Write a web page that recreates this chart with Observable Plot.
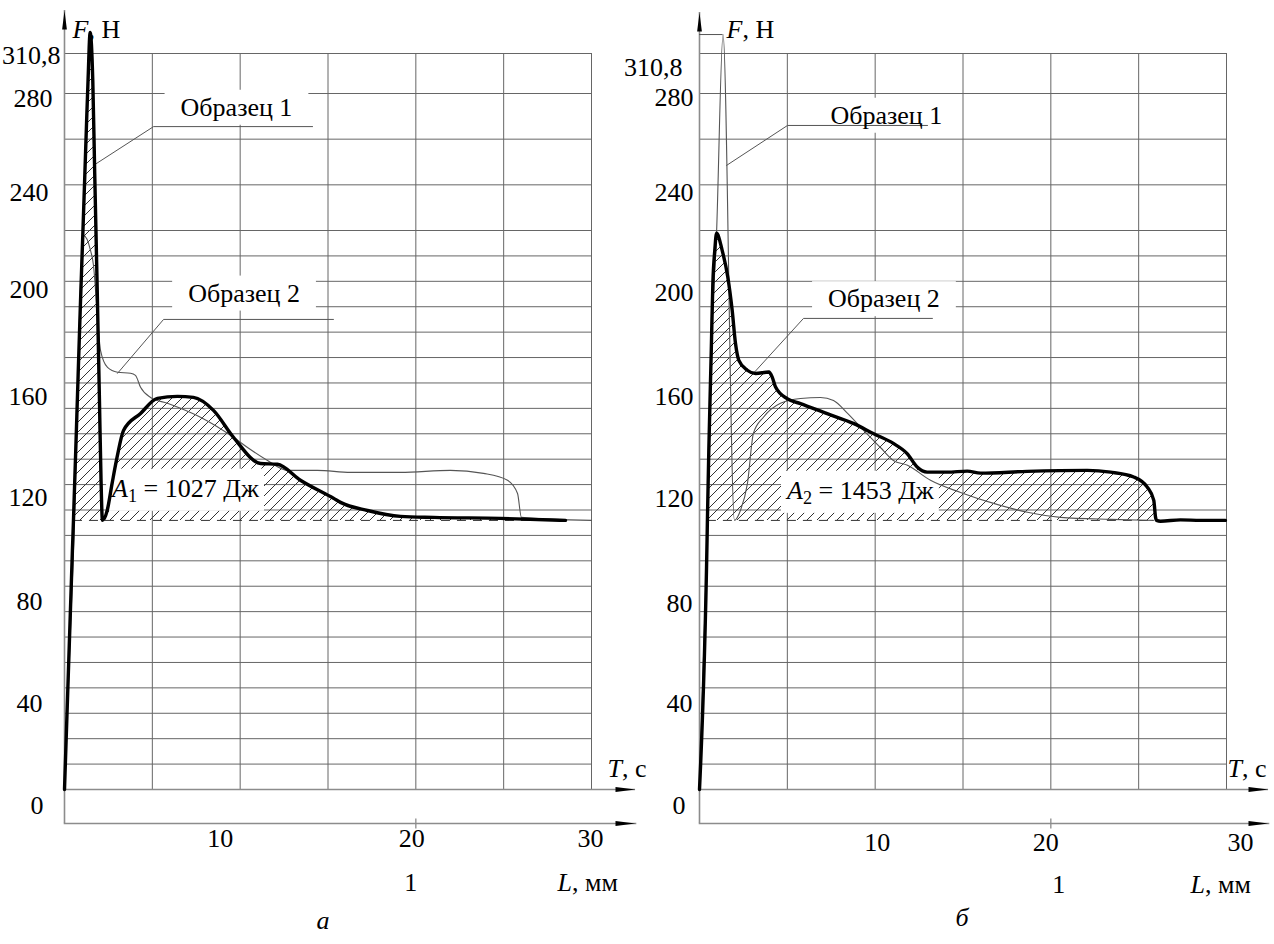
<!DOCTYPE html>
<html lang="ru">
<head>
<meta charset="utf-8">
<title>Диаграммы F–L</title>
<script src="https://cdn.jsdelivr.net/npm/d3@7"></script>
<script src="https://cdn.jsdelivr.net/npm/@observablehq/plot@0.6"></script>
<style>
  html, body { margin: 0; padding: 0; background: #fff; }
  #figure { display: flex; width: 1274px; height: 944px; }
  #figure > svg { flex: none; overflow: visible; background: none; max-width: none; }
  #figure svg text { font-family: "Liberation Serif", "Times New Roman", Tinos, "DejaVu Serif", serif !important; }
</style>
</head>
<body>
<div id="figure"></div>
<script>
// ---------------- shared grid / tick data ----------------
const gridF = [10, 20, 30, 40, 50, 60, 70, 80, 90, 100, 110, 120, 130, 140, 150, 160, 170, 180, 190, 200, 210, 220, 240, 260, 280, 310.8];
const gridL = [5, 10, 15, 20, 25, 30];
const yTickValues = [310.8, 280, 240, 200, 160, 120, 80, 40, 0];
const yTickLabels = ["310,8", "280", "240", "200", "160", "120", "80", "40", "0"];
const xTickValues = [10, 20, 30];
const xTickLabels = ["10", "20", "30"];
const sampleNames = ["Образец 1", "Образец 2"];
const baseF = 105.9;

// ---------------- panel а ----------------
// Образец 1 (thick)
const a_s1_L = [0, 0.45, 0.51, 0.70, 0.90, 1.05, 1.16, 1.26, 1.34, 1.46, 1.61, 1.72, 1.86, 1.99, 2.08, 2.16, 2.43, 2.71, 2.99, 3.36, 4.33, 5.29, 6.43, 7.34, 8.48, 9.62, 11.16, 12.12, 13.43, 15.31, 15.71, 17.25, 19.13, 21.0, 24.82, 28.52];
const a_s1_F = [0, 94.1, 105.9, 146.5, 189.8, 220, 245, 268.2, 290, 327, 290, 245, 197.6, 153.1, 121.7, 105.9, 109.8, 120.5, 130.7, 141.3, 148.0, 153.9, 154.7, 154.3, 149.2, 138.6, 128.3, 128.0, 121.7, 114.6, 113.0, 109.8, 107.5, 107.1, 106.7, 105.9];
// Образец 2 (thin)
const a_s2_L = [0, 0.51, 1.08, 1.48, 1.65, 1.88, 2.05, 2.45, 3.02, 3.76, 4.04, 4.33, 4.90, 5.86, 7.74, 9.62, 10.42, 11.56, 12.69, 14.40, 16.28, 19.13, 21.97, 23.85, 25.22, 25.79, 26.01, 30.0];
const a_s2_F = [0, 94.1, 218.1, 212.2, 206.3, 185.8, 172.8, 166.1, 164.2, 163.8, 163.0, 158.3, 154.3, 152.0, 146.5, 138.6, 134.6, 129.5, 125.6, 125.6, 124.8, 124.8, 125.6, 124.4, 121.7, 116.5, 107.1, 105.9];
const a_hatch = [0.51, 28.52];
const a_lead1_L = [1.65, 5.07, 14.12], a_lead1_F = [248.5, 265.5, 265.5];
const a_lead2_L = [3.02, 5.64, 15.31], a_lead2_F = [163.8, 185.0, 185.0];
const a_sample_L = [9.79, 10.22], a_sample_F = [273.9, 195.3];
const a_energy = {text: "A1 = 1027 Дж", L: 6.89, F: 118.5};

// ---------------- panel б ----------------
// Образец 2 (thick)
const b_s2_L = [0, 0.43, 0.45, 0.53, 0.67, 0.76, 0.87, 0.97, 1.29, 1.61, 1.86, 2.05, 2.24, 2.72, 3.19, 3.95, 4.14, 4.33, 4.99, 5.75, 7.27, 8.79, 9.92, 11.06, 11.82, 12.39, 12.96, 14.10, 15.24, 16.0, 18.65, 22.07, 23.40, 24.72, 25.49, 25.86, 25.96, 26.02, 26.24, 27.38, 28.52, 29.94];
const b_s2_F = [0, 98, 105.9, 133.5, 172.8, 199.2, 212.2, 218.9, 212.2, 201.7, 188.6, 175.5, 168.9, 165.0, 163.7, 164.3, 162.3, 158.4, 153.8, 151.9, 147.9, 144.0, 140.0, 136.1, 132.2, 126.9, 124.9, 124.9, 125.3, 124.5, 125.2, 125.6, 124.9, 123.0, 119.0, 113.8, 107.2, 105.9, 105.6, 106.1, 105.9, 105.9];
// Образец 1 (thin)
const b_s1_L = [0, 0.43, 0.67, 0.97, 1.34, 1.99, 2.33, 2.73, 3.07, 3.64, 4.61, 5.75, 6.89, 7.63, 8.43, 9.34, 10.30, 11.04, 11.84, 13.15, 14.86, 16.74, 18.67, 20.55, 23.40, 25.84];
const b_s1_F = [0, 98, 172.8, 218.9, 325.4, 105.9, 109.8, 120.5, 140.2, 146.5, 152.0, 153.9, 154.3, 153.1, 148.0, 141.3, 134.6, 129.5, 127.6, 121.7, 116.9, 112.6, 109.1, 107.1, 106.3, 105.9];
const b_hatch = [0.45, 26.02];
const b_peak = {L: 1.34, F: 325.4};
const b_lead1_L = [1.54, 5.01, 12.98], b_lead1_F = [248.5, 266.0, 266.0];
const b_lead2_L = [3.07, 5.92, 13.26], b_lead2_F = [163.8, 185.4, 185.4];
const b_sample_L = [10.64, 10.50], b_sample_F = [270.4, 193.1];
const b_energy = {text: "A2 = 1453 Дж", L: 9.16, F: 117.7};

// ---------------- helpers ----------------
const pts = (L, F) => L.map((x, i) => ({L: x, F: F[i]}));
const FONT = '"Liberation Serif", "Times New Roman", Tinos, "DejaVu Serif", serif';
const FS = 26;
const GRID = "#666666";
const AXIS = "#8c8c8c";
const BOX_SAMPLE = "#fffffe";
const BOX_ENERGY = "#fffffd";
const NS = "http://www.w3.org/2000/svg";

const arrowUp = {draw(c) { c.moveTo(0, 0); c.lineTo(2.4, 19); c.lineTo(-2.4, 19); c.closePath(); }};
const arrowRight = {draw(c) { c.moveTo(0, 0); c.lineTo(-20, -2.6); c.lineTo(-20, 2.6); c.closePath(); }};
const tickV = {draw(c) { c.moveTo(0, -5); c.lineTo(0, 5); }};

const txt = (data, o) => Plot.text(data, {fontFamily: FONT, fontSize: FS, fill: "black", ...o});

function makePanel(cfg) {
  const thick = pts(cfg.thickL, cfg.thickF);
  const thin = pts(cfg.thinL, cfg.thinF);
  const hatchData = thick.filter(d => d.F >= baseF - 0.05 && d.L >= cfg.hatch[0] && d.L <= cfg.hatch[1]);
  const samples = sampleNames.map((t, i) => ({t, L: cfg.sampleL[i], F: cfg.sampleF[i]}));
  const lay = cfg.layout;
  const marks = [
    // grid
    Plot.ruleY(gridF, {x1: 0, x2: 30, stroke: GRID, strokeWidth: 1}),
    Plot.ruleX(gridL, {y1: 0, y2: 310.8, stroke: GRID, strokeWidth: 1}),
    // axes
    Plot.ruleX([0], {stroke: AXIS, strokeWidth: 1.6}),
    Plot.frame({anchor: "bottom", stroke: AXIS, strokeWidth: 1.6}),
    Plot.ruleY([0], {stroke: AXIS, strokeWidth: 1.6}),
    Plot.dot([0], {frameAnchor: "top-left", symbol: arrowUp, fill: "black", stroke: "none"}),
    Plot.dot([0], {y: d => d, frameAnchor: "right", symbol: arrowRight, fill: "black", stroke: "none"}),
    Plot.dot([0], {frameAnchor: "bottom-right", symbol: arrowRight, fill: "black", stroke: "none"}),
    Plot.dot([20], {x: d => d, frameAnchor: "bottom", symbol: tickV, fill: "none", stroke: AXIS, strokeWidth: 1.3}),
    // hatched work area
    Plot.areaY(hatchData, {x: "L", y1: baseF, y2: "F", fill: `url(#hatch-${cfg.id})`, curve: "monotone-x"}),
    Plot.ruleY([baseF], {x1: cfg.hatch[0], x2: cfg.dashEnd, stroke: "#333", strokeWidth: 1, strokeDasharray: "9,7"}),
    // white label boxes (placeholders, replaced by rectangles after rendering)
    txt(samples, {x: "L", y: "F", text: "t", fill: BOX_SAMPLE}),
    txt([cfg.energy], {x: "L", y: "F", text: "text", fill: BOX_ENERGY}),
    // leaders
    Plot.line(pts(cfg.lead1L, cfg.lead1F), {x: "L", y: "F", stroke: "#555", strokeWidth: 1}),
    Plot.line(pts(cfg.lead2L, cfg.lead2F), {x: "L", y: "F", stroke: "#555", strokeWidth: 1}),
  ];
  if (cfg.peak) marks.push(Plot.ruleY([cfg.peak], {y: "F", x1: 0, x2: "L", stroke: "#555", strokeWidth: 1}));
  marks.push(
    // curves
    Plot.line(thin, {x: "L", y: "F", stroke: "#555", strokeWidth: 1.1, curve: "monotone-x"}),
    Plot.line(thick, {x: "L", y: "F", stroke: "black", strokeWidth: 3.4, curve: "monotone-x", strokeLinejoin: "round"}),
    // annotations
    txt(samples, {x: "L", y: "F", text: "t"}),
    txt([cfg.energy], {x: "L", y: "F", text: "text"}),
    // axis titles
    txt(["F, Н"], {frameAnchor: "top-left", textAnchor: "start", dx: lay.fDx, dy: lay.fDy}),
    txt(["T, с"], {y: [0], frameAnchor: "right", textAnchor: "start", dx: lay.tDx, dy: -21}),
    txt(["L, мм"], {x: [30], frameAnchor: "bottom", textAnchor: "start", dx: lay.lDx, dy: lay.uDy}),
    txt(["1"], {x: [20], frameAnchor: "bottom", dx: lay.oneDx, dy: lay.uDy}),
    txt([cfg.caption], {frameAnchor: "bottom-left", dx: lay.capDx, dy: lay.capDy}),
    ...yTickValues.map((v, i) => txt([yTickLabels[i]], {y: [v], frameAnchor: "left", textAnchor: "end", dx: lay.yDx[i], dy: lay.yDy[i]})),
    ...xTickValues.map((v, i) => txt([xTickLabels[i]], {x: [v], frameAnchor: "bottom", dx: lay.xDx[i], dy: lay.xDy}))
  );
  const svg = Plot.plot({
    width: 637, height: 944,
    marginLeft: cfg.marginLeft, marginRight: cfg.marginRight, marginTop: cfg.marginTop, marginBottom: 121,
    x: {type: "linear", domain: [0, 30], range: cfg.xRange, axis: null},
    y: {type: "linear", domain: [0, 220, 280, 310.8], range: [789, 230, 93, 53], axis: null},
    marks
  });
  const defs = document.createElementNS(NS, "defs");
  defs.innerHTML = `<pattern id="hatch-${cfg.id}" patternUnits="userSpaceOnUse" width="10" height="10">
    <path d="M-1,1 L1,-1 M0,10 L10,0 M9,11 L11,9" stroke="#333" stroke-width="1" fill="none"/></pattern>`;
  svg.insertBefore(defs, svg.firstChild);
  return svg;
}

const rich = {
  "F, Н": [["F", "i"], [", Н"]],
  "T, с": [["T", "i"], [", с"]],
  "L, мм": [["L", "i"], [", мм"]],
  "A1 = 1027 Дж": [["A", "i"], ["1", "sub"], [" = 1027 Дж"]],
  "A2 = 1453 Дж": [["A", "i"], ["2", "sub"], [" = 1453 Дж"]],
  "а": [["а", "i"]],
  "б": [["б", "i"]]
};
function enrich(svg) {
  svg.querySelectorAll("text").forEach(t => {
    t.style.fontFamily = FONT;
    const parts = rich[t.textContent];
    if (!parts) return;
    t.textContent = "";
    let shifted = false;
    for (const [s, kind] of parts) {
      const sp = document.createElementNS(NS, "tspan");
      sp.textContent = s;
      if (kind === "i") sp.setAttribute("font-style", "italic");
      if (kind === "sub") { sp.setAttribute("font-size", "70%"); sp.setAttribute("dy", "0.28em"); shifted = true; }
      else if (shifted) { sp.setAttribute("dy", "-0.2em"); shifted = false; }
      t.appendChild(sp);
    }
  });
}
function fillOf(el) {
  let n = el;
  while (n && n.getAttribute) {
    const f = n.getAttribute("fill");
    if (f) return f.toLowerCase();
    n = n.parentNode;
  }
  return null;
}
function boxify(svg, color, padX, padY) {
  const targets = Array.from(svg.querySelectorAll("text")).filter(t => fillOf(t) === color);
  for (const t of targets) {
    const b = t.getBBox();
    const r = document.createElementNS(NS, "rect");
    r.setAttribute("x", b.x - padX);
    r.setAttribute("y", b.y - padY);
    r.setAttribute("width", b.width + 2 * padX);
    r.setAttribute("height", b.height + 2 * padY);
    r.setAttribute("fill", "white");
    r.setAttribute("stroke", "none");
    const tr = t.getAttribute("transform");
    if (tr) r.setAttribute("transform", tr);
    t.parentNode.insertBefore(r, t);
    t.remove();
  }
}

const panels = [
  {
    id: "a", caption: "а", marginLeft: 64, marginRight: 2, marginTop: 10, xRange: [64, 591],
    thickL: a_s1_L, thickF: a_s1_F, thinL: a_s2_L, thinF: a_s2_F,
    hatch: a_hatch, dashEnd: 28.52,
    lead1L: a_lead1_L, lead1F: a_lead1_F, lead2L: a_lead2_L, lead2F: a_lead2_F,
    sampleL: a_sample_L, sampleF: a_sample_F, energy: a_energy, peak: null,
    layout: {
      yDx: [-4, -12, -16, -16, -17, -17, -22, -22, -21],
      yDy: [2, 5, 8, 8, 14, 13, 15, 16, 16],
      xDx: [-20, -4, -1], xDy: 23, oneDx: -5, uDy: 67, lDx: -34, tDx: -28,
      fDx: 8, fDy: 9, capDx: 252, capDy: 105
    }
  },
  {
    id: "b", caption: "б", marginLeft: 62, marginRight: 6, marginTop: 12, xRange: [62, 589],
    thickL: b_s2_L, thickF: b_s2_F, thinL: b_s1_L, thinF: b_s1_F,
    hatch: b_hatch, dashEnd: 25.86,
    lead1L: b_lead1_L, lead1F: b_lead1_F, lead2L: b_lead2_L, lead2F: b_lead2_F,
    sampleL: b_sample_L, sampleF: b_sample_F, energy: b_energy, peak: b_peak,
    layout: {
      yDx: [-17, -6, -6, -6, -6, -6, -7, -7, -14],
      yDy: [14, 4, 8, 11, 14, 14, 17, 16, 16],
      xDx: [2, -5, 14], xDy: 27, oneDx: 8, uDy: 69, lDx: -36, tDx: -41,
      fDx: 27, fDy: 7, capDx: 256, capDy: 102
    }
  }
];

const fig = document.getElementById("figure");
for (const cfg of panels) {
  const svg = makePanel(cfg);
  fig.appendChild(svg);
  enrich(svg);
  boxify(svg, BOX_SAMPLE, 16, 3);
  boxify(svg, BOX_ENERGY, 4, 5);
}
</script>
</body>
</html>
